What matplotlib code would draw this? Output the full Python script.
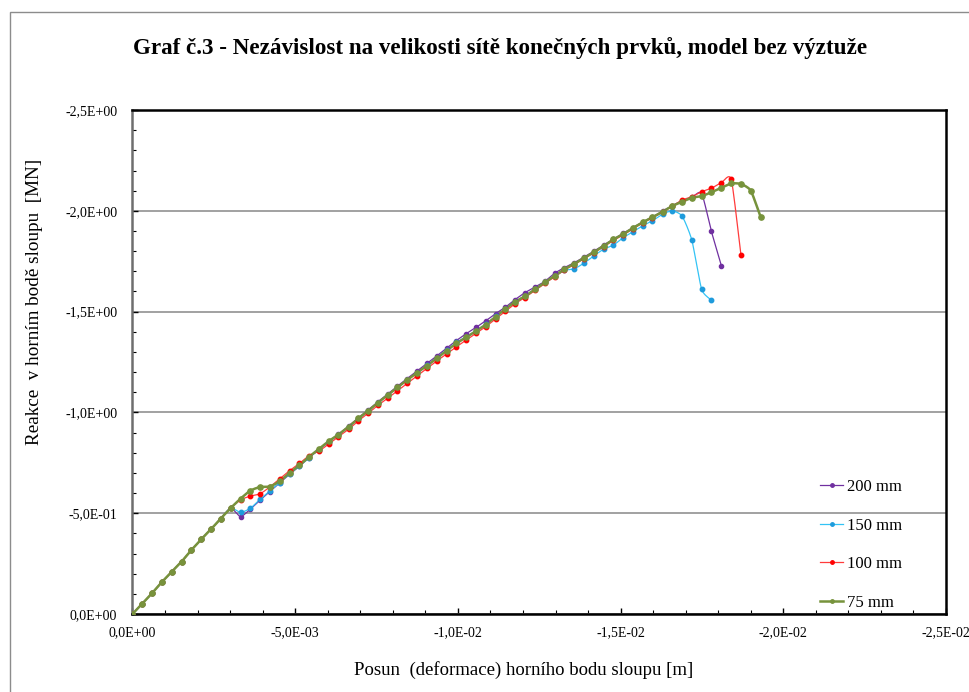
import numpy as np
import matplotlib
matplotlib.use('Agg')
import matplotlib.pyplot as plt
from matplotlib.patches import Rectangle
from matplotlib.ticker import MultipleLocator, FuncFormatter

# posun horniho bodu [mm] - krok zatezovani
posun_mm = [0.0, 0.30, 0.60, 0.90, 1.21, 1.51, 1.81, 2.11, 2.41, 2.71,
            3.02, 3.32, 3.62, 3.92, 4.22, 4.52, 4.83, 5.13, 5.43, 5.73,
            6.03, 6.33, 6.64, 6.94, 7.24, 7.54, 7.84, 8.14, 8.44, 8.75,
            9.05, 9.35, 9.65, 9.95, 10.25, 10.56, 10.86, 11.16, 11.46, 11.76,
            12.06, 12.37, 12.67, 12.97, 13.27, 13.57, 13.87, 14.18, 14.48, 14.78,
            15.08, 15.38, 15.68, 15.98, 16.29, 16.59, 16.89, 17.19, 17.49, 17.79,
            18.10, 18.40, 18.70, 19.00, 19.30]

# reakce [MN] (absolutni hodnoty)
reakce_200 = [0.0, 0.051, 0.103, 0.158, 0.210, 0.260, 0.317, 0.370, 0.420, 0.473,
              0.526, 0.483, 0.520, 0.565, 0.607, 0.650, 0.693, 0.733, 0.776, 0.816,
              0.855, 0.892, 0.932, 0.973, 1.012, 1.052, 1.091, 1.130, 1.168, 1.206,
              1.243, 1.280, 1.318, 1.356, 1.390, 1.422, 1.455, 1.490, 1.522, 1.560,
              1.594, 1.622, 1.650, 1.690, 1.718, 1.742, 1.770, 1.800, 1.830, 1.860,
              1.888, 1.917, 1.945, 1.970, 1.998, 2.026, 2.050, 2.068, 2.087, 1.898,
              1.726]

reakce_150 = [0.0, 0.051, 0.103, 0.158, 0.210, 0.260, 0.317, 0.370, 0.420, 0.473,
              0.526, 0.504, 0.524, 0.569, 0.610, 0.652, 0.695, 0.733, 0.776, 0.815,
              0.852, 0.888, 0.927, 0.968, 1.006, 1.046, 1.084, 1.122, 1.160, 1.197,
              1.234, 1.272, 1.310, 1.347, 1.375, 1.405, 1.438, 1.476, 1.513, 1.549,
              1.578, 1.612, 1.645, 1.675, 1.705, 1.712, 1.740, 1.777, 1.810, 1.830,
              1.867, 1.896, 1.926, 1.951, 1.984, 2.000, 1.974, 1.854, 1.611, 1.556]

reakce_100 = [0.0, 0.051, 0.103, 0.158, 0.210, 0.260, 0.317, 0.370, 0.420, 0.473,
              0.526, 0.566, 0.585, 0.596, 0.630, 0.670, 0.711, 0.747, 0.786, 0.808,
              0.843, 0.880, 0.916, 0.958, 0.995, 1.035, 1.070, 1.107, 1.144, 1.182,
              1.218, 1.255, 1.290, 1.325, 1.358, 1.392, 1.426, 1.464, 1.502, 1.540,
              1.570, 1.605, 1.640, 1.672, 1.706, 1.733, 1.762, 1.792, 1.822, 1.853,
              1.880, 1.911, 1.940, 1.965, 1.993, 2.024, 2.054, 2.070, 2.095, 2.112,
              2.140, 2.156, 1.779]

reakce_75 = [0.0, 0.051, 0.103, 0.158, 0.210, 0.260, 0.317, 0.370, 0.420, 0.473,
             0.526, 0.572, 0.612, 0.630, 0.632, 0.658, 0.700, 0.738, 0.780, 0.819,
             0.857, 0.890, 0.929, 0.970, 1.008, 1.048, 1.086, 1.124, 1.161, 1.197,
             1.232, 1.268, 1.306, 1.342, 1.372, 1.404, 1.436, 1.475, 1.513, 1.549,
             1.576, 1.611, 1.645, 1.677, 1.710, 1.737, 1.765, 1.795, 1.826, 1.858,
             1.885, 1.915, 1.943, 1.968, 1.996, 2.024, 2.045, 2.065, 2.073, 2.092,
             2.115, 2.136, 2.133, 2.100, 1.971]

popisky = ['200 mm', '150 mm', '100 mm', '75 mm']


def hladka(x, y, n=10, s=0.6):
    # vyhlazena cara pres body (Catmull-Rom se snizenym napetim)
    x = np.asarray(x, float)
    y = np.asarray(y, float)
    px = np.concatenate([[2 * x[0] - x[1]], x, [2 * x[-1] - x[-2]]])
    py = np.concatenate([[2 * y[0] - y[1]], y, [2 * y[-1] - y[-2]]])
    t = np.linspace(0, 1, n, endpoint=False)
    h00 = 2 * t ** 3 - 3 * t ** 2 + 1
    h10 = t ** 3 - 2 * t ** 2 + t
    h01 = -2 * t ** 3 + 3 * t ** 2
    h11 = t ** 3 - t ** 2
    xs, ys = [], []
    for i in range(len(x) - 1):
        for p, out in ((px, xs), (py, ys)):
            p0, p1, p2, p3 = p[i], p[i + 1], p[i + 2], p[i + 3]
            m1 = s * (p2 - p0) / 2
            m2 = s * (p3 - p1) / 2
            out.append(h00 * p1 + h10 * m1 + h01 * p2 + h11 * m2)
    xs.append([x[-1]])
    ys.append([y[-1]])
    return np.concatenate(xs), np.concatenate(ys)


def popis_osy(v, pos):
    if abs(v) < 1e-12:
        v = 0.0
    return f"{v:.1E}".replace('.', ',')


plt.rcParams['font.family'] = ['Liberation Serif', 'DejaVu Serif']

fig = plt.figure(figsize=(9.69, 6.92), dpi=100)
ax = fig.add_axes([0.1367, 0.1127, 0.8396, 0.7283])

serie = [
    (reakce_200, '#7030A0', '#7030A0', 0.9, 3.0),
    (reakce_150, '#33C3F5', '#1E9BDC', 0.9, 3.2),
    (reakce_100, '#FF3B3B', '#FF0000', 0.9, 3.2),
    (reakce_75, '#77933C', '#77933C', 1.8, 3.8),
]

for (reakce, barva_cary, barva_bodu, lw, ms), popis in zip(serie, popisky):
    x = -np.array(posun_mm[:len(reakce)]) / 1000.0
    y = -np.array(reakce)
    hx, hy = hladka(x, y)
    ax.plot(hx, hy, color=barva_cary, lw=lw, zorder=3)
    ax.plot(x, y, ls='none', marker='o', ms=ms, color=barva_bodu,
            mec=barva_bodu, zorder=4)
    # polozka do legendy
    ax.plot([], [], color=barva_cary, lw=lw, marker='o', ms=2.5,
            mfc=barva_bodu, mec=barva_bodu, label=popis)

ax.set_xlim(0, -0.025)
ax.set_ylim(0, -2.5)

ax.xaxis.set_major_locator(MultipleLocator(0.005))
ax.xaxis.set_minor_locator(MultipleLocator(0.001))
ax.yaxis.set_major_locator(MultipleLocator(0.5))
ax.yaxis.set_minor_locator(MultipleLocator(0.1))

fmt = FuncFormatter(popis_osy)
ax.xaxis.set_major_formatter(fmt)
ax.yaxis.set_major_formatter(fmt)

ax.tick_params(which='major', direction='in', length=4, width=1, labelsize=10, pad=9)
ax.tick_params(which='minor', direction='in', length=3, width=0.8)
ax.tick_params(axis='y', which='major', pad=11)

ax.grid(axis='y', which='major', color='#9A9A9A', lw=1.3, zorder=1)

for s in ['top', 'right', 'bottom']:
    ax.spines[s].set_linewidth(1.8)
    ax.spines[s].set_color('black')
ax.spines['left'].set_linewidth(1.8)
ax.spines['left'].set_color('#6E6E6E')

leg = ax.legend(loc='upper left', bbox_to_anchor=(0.845, 0.268), frameon=False,
                fontsize=12, handlelength=1.4, handletextpad=0.2,
                labelspacing=1.36, borderpad=0, borderaxespad=0)

fig.text(0.516, 0.931, 'Graf č.3 - Nezávislost na velikosti sítě konečných prvků, model bez výztuže',
         ha='center', va='center', fontsize=16.6, fontweight='bold')
fig.text(0.036, 0.564, 'Reakce  v horním bodě sloupu  [MN]', rotation=90,
         ha='center', va='center', fontsize=13.8)
fig.text(0.54, 0.032, 'Posun  (deformace) horního bodu sloupu [m]',
         ha='center', va='center', fontsize=13.5)

# ramecek kolem grafu
fig.patches.append(Rectangle((10 / 969, -0.05), 1.2, 1.05 - 12 / 692,
                             transform=fig.transFigure, fill=False,
                             edgecolor='#8C8C8C', lw=1.0))

fig.savefig('out.png', dpi=100)
